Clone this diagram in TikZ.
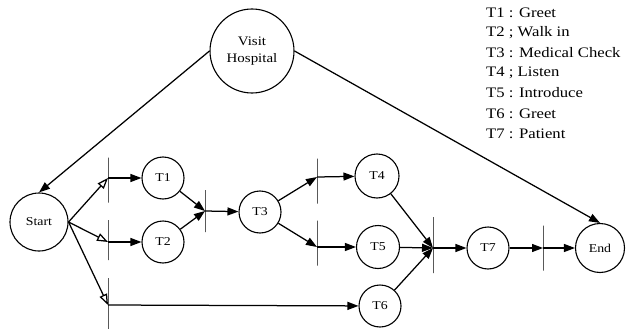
\documentclass[tikz,border=0pt]{standalone}
\usepackage{fontspec}
\setmainfont{Liberation Serif}[FakeStretch=1.15]
\usetikzlibrary{arrows.meta}
\begin{document}
\begin{tikzpicture}[x=1pt,y=-1pt,
  every node/.style={font=\fontsize{12}{13}\selectfont},
  place/.style={draw, circle, line width=1.1pt, inner sep=0pt, minimum size=#1},
  bar/.style={draw, line width=1pt, rectangle, inner sep=0pt, minimum width=0pt, minimum height=#1, outer sep=0pt},
  arr/.style={line width=1.25pt, -{Triangle[length=11pt,width=8pt]}},
  oarr/.style={line width=1.25pt, -{Triangle[open,length=11pt,width=8pt]}},
  legend/.style={anchor=west, inner sep=0pt, font=\fontsize{14.5}{16}\selectfont}]
\useasboundingbox (0,0) rectangle (626,329);

% places
\node[place=84pt, font=\fontsize{13}{17}\selectfont, align=center] (VH) at (252,51) {Visit\\Hospital};
\node[place=58pt] (Start) at (39,222) {Start};
\node[place=42pt] (T1) at (163,178) {T1};
\node[place=42pt] (T2) at (163,242) {T2};
\node[place=42pt] (T3) at (260,212) {T3};
\node[place=44pt] (T4) at (377,176) {T4};
\node[place=43pt] (T5) at (378,247) {T5};
\node[place=42pt] (T6) at (380,306) {T6};
\node[place=42pt] (T7) at (488,248) {T7};
\node[place=49pt] (End) at (600,248) {End};

% transitions (bars)
\node[bar=45pt] (bA) at (108,180) {};
\node[bar=40pt] (bB) at (108,240) {};
\node[bar=52pt] (bC) at (108,304) {};
\node[bar=42pt] (bD) at (205,211) {};
\node[bar=45pt] (bE) at (317,181) {};
\node[bar=45pt] (bF) at (317,243) {};
\node[bar=56pt] (bG) at (433,245) {};
\node[bar=45pt] (bH) at (543,248) {};

% connectors
\draw[arr] (VH.west) -- (Start.north);
\draw[arr] (VH.east) -- (End.north);

\draw[oarr] (Start.east) -- (bA.center |- 0,178);
\draw[oarr] (Start.east) -- (bB.center |- 0,242);
\draw[oarr] (Start.east) -- (bC.center |- 0,305);

\draw[arr] (bA.center |- 0,178) -- (T1);
\draw[arr] (bB.center |- 0,242) -- (T2);
\draw[arr] (bC.center |- 0,305) -- (T6);

\draw[arr] (T1) -- (bD.center);
\draw[arr] (T2) -- (bD.center);
\draw[arr] (bD.center) -- (T3);

\draw[arr] (T3) -- (bE.center |- 0,177);
\draw[arr] (T3) -- (bF.center |- 0,247);
\draw[arr] (bE.center |- 0,177) -- (T4);
\draw[arr] (bF.center |- 0,247) -- (T5);

\draw[arr] (T4) -- (bG.center |- 0,248);
\draw[arr] (T5) -- (bG.center |- 0,248);
\draw[arr] (T6) -- (bG.center |- 0,248);
\draw[arr] (bG.center |- 0,248) -- (T7);
\draw[arr] (T7) -- (bH.center);
\draw[arr] (bH.center) -- (End);

% legend
\node[legend] (L1) at (486,13) {T1 : Greet};
\node[legend] (L2) at (486,33) {T2 ; Walk in};
\node[legend] (L3) at (486,53) {T3 : Medical Check};
\node[legend] (L4) at (486,73) {T4 ; Listen};
\node[legend] (L5) at (486,93) {T5 : Introduce};
\node[legend] (L6) at (486,114) {T6 : Greet};
\node[legend] (L7) at (486,134) {T7 : Patient};
\end{tikzpicture}
\end{document}
